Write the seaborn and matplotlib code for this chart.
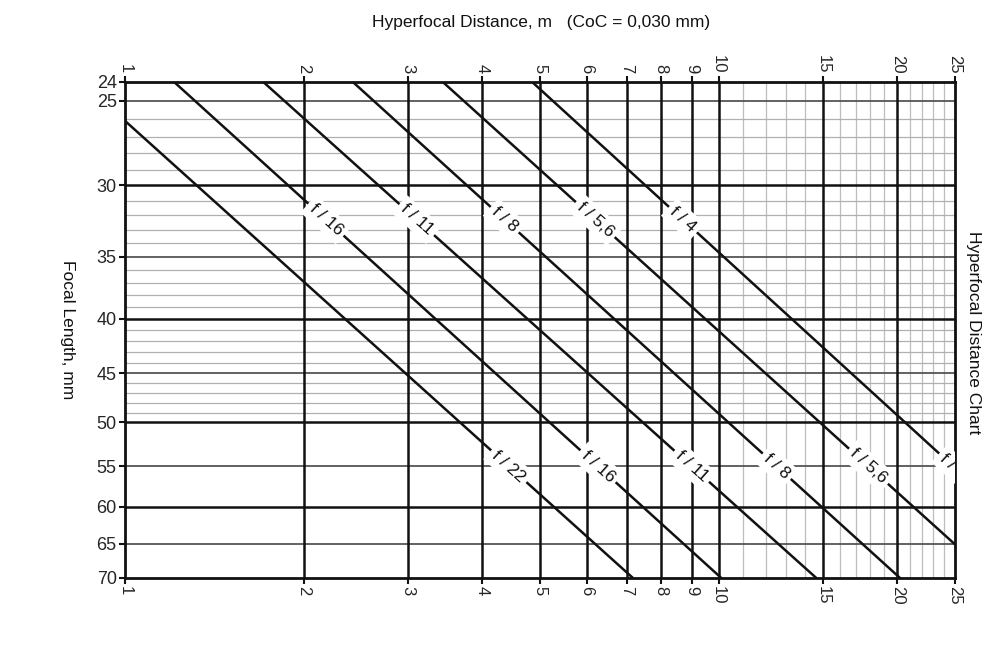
import numpy as np
import pandas as pd
import matplotlib
matplotlib.use("Agg")
import matplotlib.pyplot as plt
import seaborn as sns

# ---------------- data ----------------
apertures = ["f/22", "f/16", "f/11", "f/8", "f/5,6", "f/4"]
start_dist = [1.0, 1.21, 1.71, 2.42, 3.43, 4.85]      # m
start_focal = [26.1, 24, 24, 24, 24, 24]             # mm
end_dist = [7.17, 10.1, 14.6, 20.2, 25, 25]          # m
end_focal = [70, 70, 70, 70, 65.1, 55.2]             # mm

upper_labels = ["", "f / 16", "f / 11", "f / 8", "f / 5,6", "f / 4"]
lower_labels = ["f / 22", "f / 16", "f / 11", "f / 8", "f / 5,6", "f / 4"]
upper_label_focal = 32.3
lower_label_focal = 55

x_major = [1, 2, 3, 4, 5, 6, 7, 8, 9, 10, 15, 20, 25]
x_minor = [11, 12, 13, 14, 16, 17, 18, 19, 21, 22, 23, 24]
y_major = [24, 25, 30, 35, 40, 45, 50, 55, 60, 65, 70]
y_tens = [30, 40, 50, 60]
y_fives = [25, 35, 45, 55, 65]
y_minor = [26, 27, 28, 29, 31, 32, 33, 34, 36, 37, 38, 39,
           41, 42, 43, 44, 46, 47, 48, 49]

# ---------------- style ----------------
sns.set_style("white")
plt.rcParams["font.family"] = ["Liberation Sans", "DejaVu Sans"]

fig = plt.figure(figsize=(9.95, 6.57), dpi=100)
ax = fig.add_axes([125 / 995, 1 - 578 / 657, 830 / 995, 496 / 657])
ax.set_xscale("log")
ax.set_yscale("log")
ax.set_xlim(1, 25)
ax.set_ylim(70, 24)

# grid lines
for v in x_minor:
    ax.axvline(v, color="#bdbdbd", lw=0.9, zorder=1)
for v in y_minor:
    ax.axhline(v, color="#b0b0b0", lw=0.9, zorder=1)
for v in y_fives:
    ax.axhline(v, color="#555555", lw=1.3, zorder=2)
for v in y_tens:
    ax.axhline(v, color="#111111", lw=1.8, zorder=2)
for v in x_major[1:-1]:
    ax.axvline(v, color="#111111", lw=1.8, zorder=2)

# hyperfocal lines
rows = []
for a, x0, y0, x1, y1 in zip(apertures, start_dist, start_focal, end_dist, end_focal):
    rows.append({"aperture": a, "dist": x0, "focal": y0})
    rows.append({"aperture": a, "dist": x1, "focal": y1})
df = pd.DataFrame(rows)
sns.lineplot(data=df, x="dist", y="focal", hue="aperture", units="aperture",
             estimator=None, sort=False, palette=["#111111"] * len(apertures),
             lw=1.8, legend=False, ax=ax, zorder=3)

# labels along the lines
def place(i, focal):
    lx0, lx1 = np.log10(start_dist[i]), np.log10(end_dist[i])
    ly0, ly1 = np.log10(start_focal[i]), np.log10(end_focal[i])
    t = (np.log10(focal) - ly0) / (ly1 - ly0)
    return 10 ** (lx0 + t * (lx1 - lx0))

for i in range(len(apertures)):
    p0 = ax.transData.transform((start_dist[i], start_focal[i]))
    p1 = ax.transData.transform((end_dist[i], end_focal[i]))
    ang = np.degrees(np.arctan2(p1[1] - p0[1], p1[0] - p0[0]))
    for lab, fy in ((upper_labels[i], upper_label_focal), (lower_labels[i], lower_label_focal)):
        if not lab:
            continue
        ax.text(place(i, fy), fy, lab, rotation=ang, rotation_mode="anchor",
                ha="center", va="center", fontsize=12.5, color="#111111",
                bbox=dict(boxstyle="square,pad=0.25", fc="white", ec="none"),
                zorder=5, clip_on=True)

# axes, ticks
ax.set_xticks(x_major)
ax.set_xticklabels([str(v) for v in x_major])
ax.set_xticks([], minor=True)
ax.set_yticks(y_major)
ax.set_yticklabels([str(v) for v in y_major])
ax.set_yticks([], minor=True)
ax.tick_params(axis="x", which="major", top=True, bottom=True, labeltop=True,
               labelbottom=True, labelrotation=-90, length=4, width=1.5,
               direction="out", labelsize=12, pad=2, color="#111111")
ax.tick_params(axis="y", which="major", left=True, length=4, width=1.5,
               direction="out", labelsize=13, pad=2, color="#111111")
for s in ax.spines.values():
    s.set_visible(True)
    s.set_linewidth(2)
    s.set_color("#111111")
    s.set_zorder(4)
ax.set_xlabel("")
ax.set_ylabel("")

fig.text(541 / 995, 1 - 22 / 657, "Hyperfocal Distance, m   (CoC = 0,030 mm)",
         ha="center", va="center", fontsize=12.5, color="#111111")
fig.text(67 / 995, 1 - 330 / 657, "Focal Length, mm", rotation=-90,
         ha="center", va="center", fontsize=12.5, color="#111111")
fig.text(974 / 995, 1 - 333 / 657, "Hyperfocal Distance Chart", rotation=-90,
         ha="center", va="center", fontsize=12.5, color="#111111")

fig.savefig("out.png", dpi=100, facecolor="white")
